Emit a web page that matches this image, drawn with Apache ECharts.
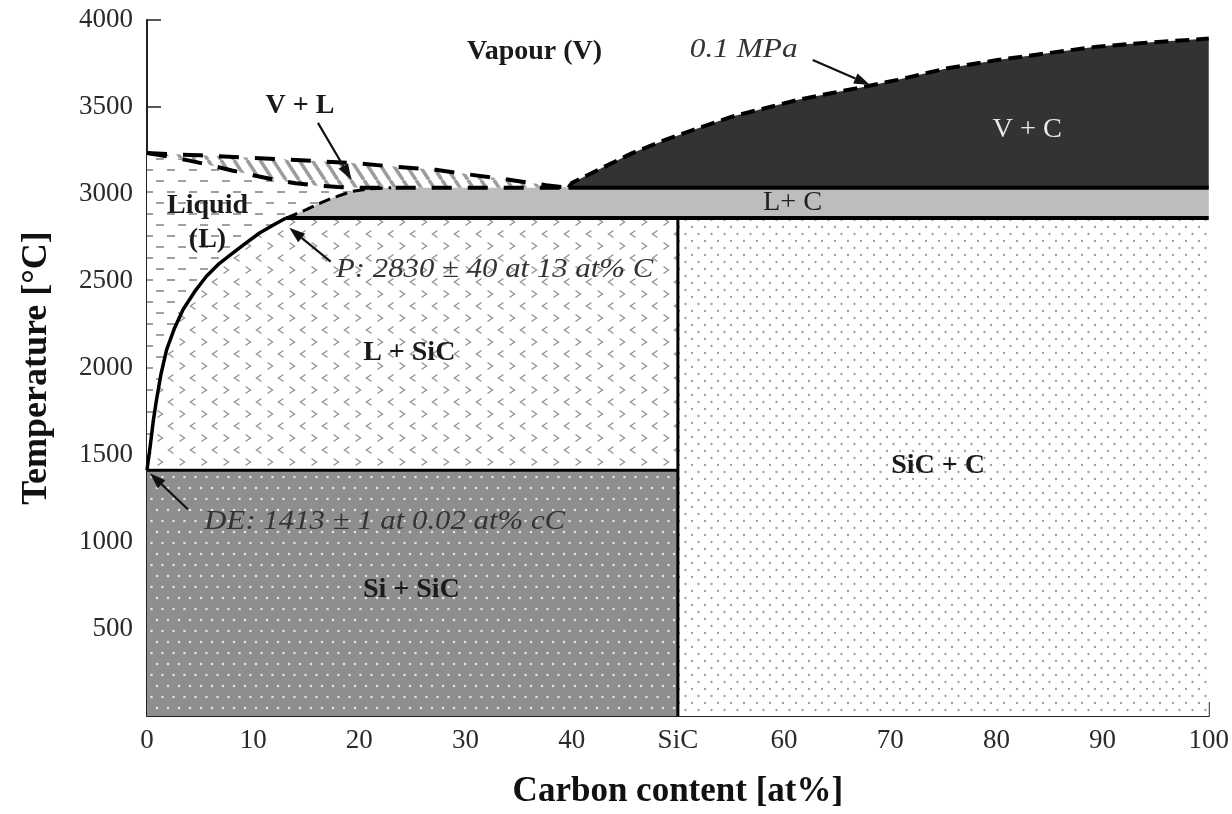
<!DOCTYPE html>
<html>
<head>
<meta charset="utf-8">
<title>Si-C phase diagram</title>
<script src="https://cdn.jsdelivr.net/npm/echarts@6/dist/echarts.min.js"></script>
<style>
  html, body { margin: 0; padding: 0; background: #fff; }
  #chart { width: 1232px; height: 814px; }
</style>
</head>
<body>
<div id="chart"></div>
<script>
// --- data: [carbon at%, temperature °C] ---
const X_NAMES = { 50: 'SiC' };          // x tick 50 is labelled SiC

const T_DE = 1413;   // Si + SiC / L + SiC boundary
const T_P = 2862;    // peritectic line
const T_VC = 3036;   // bottom of V + C
const X_SIC = 50;
const X_MAX = 100;

// liquidus from DE up to P
const liquidus = [[0, 1413], [0.3, 1550], [0.6, 1700], [0.9, 1819], [1.3, 1960], [1.85, 2106],
  [2.6, 2230], [3.4, 2336], [4.5, 2440], [5.6, 2527], [6.8, 2600], [8.1, 2661],
  [9.4, 2722], [10.6, 2776], [11.9, 2822], [13.1, 2862]];
// dashed edge of L + C, left end
const lcEdge = [[13.1, 2862], [14, 2885], [15, 2910], [16.2, 2945], [17.5, 2978],
  [19.3, 3015], [21, 3030], [23, 3036]];
// V + L band, upper and lower dashed boundaries
const vlUpper = [[0, 3235], [5, 3222], [10, 3208], [15, 3192], [20, 3175], [23.5, 3156],
  [27.2, 3139], [30.6, 3110], [34.1, 3082], [37.6, 3050], [39.7, 3036]];
const vlLower = [[0, 3235], [2, 3215], [4, 3192], [6, 3165], [8, 3135], [10, 3108],
  [12, 3082], [14, 3062], [16, 3048], [18, 3040], [20, 3036], [39.7, 3036]];
// 0.1 MPa curve
const vapour = [[39.7, 3036], [40, 3063], [42.5, 3139], [45.7, 3235], [48.8, 3311],
  [51.9, 3378], [55.1, 3445], [58.2, 3493], [61.3, 3541], [64.4, 3579], [67.6, 3617],
  [70.7, 3656], [75.4, 3723], [80.1, 3770], [84.8, 3809], [89.5, 3847], [94.2, 3870],
  [100, 3893]];

// phase labels
const labelText = ['Vapour (V)', '0.1 MPa', 'V + L', 'V + C', 'L+ C', 'Liquid', '(L)',
  'P: 2830 \u00b1 40 at 13 at% C', 'L + SiC', 'SiC + C', 'DE: 1413 \u00b1 1 at 0.02 at% cC', 'Si + SiC'];
const labelAt = [[36.5, 3816], [56.2, 3828], [14.4, 3506], [82.9, 3369], [60.8, 2950],
  [5.7, 2933], [5.7, 2737], [17.8, 2565], [24.7, 2089], [74.5, 1440], [5.4, 1119], [24.9, 723]];

// annotation arrows
const arrowFrom = [[62.7, 3770], [16.1, 3409], [17.3, 2611], [3.85, 1188]];
const arrowTo = [[68.1, 3627], [19.25, 3082], [13.4, 2806], [0.28, 1395]];

// --- fill patterns ---
function makePattern(w, h, bg, draw) {
  const c = document.createElement('canvas');
  c.width = w; c.height = h;
  const ctx = c.getContext('2d');
  ctx.fillStyle = bg;
  ctx.fillRect(0, 0, w, h);
  draw(ctx);
  return { image: c, repeat: 'repeat' };
}
function dots(ctx, pts, r, col) {
  ctx.fillStyle = col;
  pts.forEach(p => { ctx.beginPath(); ctx.arc(p[0], p[1], r, 0, Math.PI * 2); ctx.fill(); });
}
const fillSiSiC = makePattern(11, 22, '#8e8e8e', ctx => dots(ctx, [[3, 4], [8.5, 15]], 1.3, '#e2e2e2'));
const fillSiCC = makePattern(13, 14, '#ffffff', ctx => dots(ctx, [[3, 3], [9.5, 10]], 1.15, '#9c9c9c'));
const fillLSiC = makePattern(22, 24, '#ffffff', ctx => {
  ctx.strokeStyle = '#999999'; ctx.lineWidth = 1.5;
  ctx.beginPath(); ctx.moveTo(3.5, 2.5); ctx.lineTo(8.5, 6); ctx.lineTo(3.5, 9.5); ctx.stroke();
  ctx.beginPath(); ctx.moveTo(19.5, 14.5); ctx.lineTo(14.5, 18); ctx.lineTo(19.5, 21.5); ctx.stroke();
});
const fillLiquid = makePattern(22, 22, '#ffffff', ctx => {
  ctx.strokeStyle = '#a0a0a0'; ctx.lineWidth = 1.8;
  ctx.beginPath(); ctx.moveTo(2, 5); ctx.lineTo(10, 5); ctx.moveTo(13, 16); ctx.lineTo(21, 16); ctx.stroke();
});
const fillVL = makePattern(13, 20, '#ffffff', ctx => {
  ctx.strokeStyle = '#9c9c9c'; ctx.lineWidth = 3.5;
  ctx.beginPath();
  [-13, 0, 13].forEach(x0 => { ctx.moveTo(x0, 0); ctx.lineTo(x0 + 13, 20); });
  ctx.stroke();
});

// --- regions built from the boundaries ---
const regions = [
  { pts: [[0, 0], [X_SIC, 0], [X_SIC, T_DE], [0, T_DE]], fill: fillSiSiC },
  { pts: [[X_SIC, 0], [X_MAX, 0], [X_MAX, T_P], [X_SIC, T_P]], fill: fillSiCC },
  { pts: [[0, T_DE], [X_SIC, T_DE], [X_SIC, T_P]].concat(liquidus.slice().reverse()), fill: fillLSiC },
  { pts: liquidus.concat(lcEdge.slice(1), vlLower.slice(0, 11).reverse()), fill: fillLiquid },
  { pts: vlUpper.concat(vlLower.slice().reverse()), fill: fillVL },
  { pts: [[X_MAX, T_P], [X_MAX, T_VC]].concat(lcEdge.slice().reverse()), fill: '#bdbdbd' },
  { pts: vapour.concat([[X_MAX, T_VC]]), fill: '#333333' }
];

const labelStyle = {
  bold: { fontWeight: 'bold', fontStyle: 'normal', fill: '#1a1a1a', align: 'center', size: 28, scale: 1 },
  plain: { fontWeight: 'normal', fontStyle: 'normal', fill: '#1f1f1f', align: 'center', size: 27, scale: 1.05 },
  white: { fontWeight: 'normal', fontStyle: 'normal', fill: '#e8e8e8', align: 'center', size: 27, scale: 1.05 },
  note: { fontWeight: 'normal', fontStyle: 'italic', fill: '#333333', align: 'center', size: 28, scale: 1.12 },
  noteLeft: { fontWeight: 'normal', fontStyle: 'italic', fill: '#333333', align: 'left', size: 28, scale: 1.1 }
};
const labelKind = ['bold', 'note', 'bold', 'white', 'plain', 'bold', 'bold', 'noteLeft', 'bold', 'bold', 'noteLeft', 'bold'];

const FONT = '"Liberation Serif", "Times New Roman", serif';

function lineSeries(data, width, dash, z) {
  return {
    type: 'line', data: data, showSymbol: false, symbol: 'none', z: z || 3,
    lineStyle: { color: '#000', width: width, type: dash || 'solid', cap: 'butt', join: 'round' },
    animation: false, silent: true
  };
}

const chart = echarts.init(document.getElementById('chart'));
chart.setOption({
  backgroundColor: '#fff',
  animation: false,
  grid: { left: 147, right: 20, top: 20, bottom: 97 },
  xAxis: {
    type: 'value', min: 0, max: 100, interval: 10,
    name: 'Carbon content [at%]', nameLocation: 'middle', nameGap: 58,
    nameTextStyle: { fontFamily: FONT, fontSize: 35, fontWeight: 'bold', color: '#111' },
    axisLine: { lineStyle: { color: '#222', width: 2 } },
    axisTick: { inside: true, length: 14, lineStyle: { color: '#222', width: 1.5 } },
    axisLabel: { fontFamily: FONT, fontSize: 27, color: '#2a2a2a', margin: 11,
      formatter: v => X_NAMES[v] || String(v) },
    splitLine: { show: false }
  },
  yAxis: {
    type: 'value', min: 0, max: 4000, interval: 500,
    name: 'Temperature [\u00b0C]', nameLocation: 'middle', nameGap: 92,
    nameTextStyle: { fontFamily: FONT, fontSize: 36, fontWeight: 'bold', color: '#111' },
    axisLine: { lineStyle: { color: '#222', width: 2 } },
    axisTick: { inside: true, length: 14, lineStyle: { color: '#222', width: 1.5 } },
    axisLabel: { fontFamily: FONT, fontSize: 27, color: '#2a2a2a', margin: 14,
      formatter: v => (v === 0 ? '' : String(v)) },
    splitLine: { show: false }
  },
  series: [
    {
      type: 'custom', z: 1, silent: true, clip: true,
      data: regions.map((r, i) => [r.pts[0][0], r.pts[0][1], i]),
      renderItem: (params, api) => {
        const r = regions[params.dataIndex];
        return { type: 'polygon', shape: { points: r.pts.map(p => api.coord(p)) },
          style: { fill: r.fill, stroke: null } };
      }
    },
    lineSeries(liquidus, 3.5),
    lineSeries([[0, T_DE], [X_SIC, T_DE]], 3),
    lineSeries([[X_SIC, 0], [X_SIC, T_P]], 3),
    lineSeries([[liquidus[liquidus.length - 1][0], T_P], [X_MAX, T_P]], 4),
    lineSeries([[vapour[0][0], T_VC], [X_MAX, T_VC]], 4),
    lineSeries(lcEdge, 3, [12, 6]),
    lineSeries(vlUpper, 4, [20, 16]),
    lineSeries(vlLower, 4, [20, 16]),
    lineSeries(vapour, 4, [14, 7]),
    {
      type: 'custom', z: 5, silent: true,
      data: arrowFrom.map(p => [p[0], p[1]]),
      renderItem: (params, api) => {
        const a = api.coord(arrowFrom[params.dataIndex]);
        const b = api.coord(arrowTo[params.dataIndex]);
        const ang = Math.atan2(b[1] - a[1], b[0] - a[0]);
        const L = 16, W = 5.5;
        const base = [b[0] - L * Math.cos(ang), b[1] - L * Math.sin(ang)];
        const p1 = [base[0] + W * Math.sin(ang), base[1] - W * Math.cos(ang)];
        const p2 = [base[0] - W * Math.sin(ang), base[1] + W * Math.cos(ang)];
        return { type: 'group', children: [
          { type: 'line', shape: { x1: a[0], y1: a[1], x2: base[0], y2: base[1] },
            style: { stroke: '#111', lineWidth: 2.2 } },
          { type: 'polygon', shape: { points: [b, p1, p2] }, style: { fill: '#111' } }
        ] };
      }
    },
    {
      type: 'custom', z: 6, silent: true,
      data: labelAt.map(p => [p[0], p[1]]),
      renderItem: (params, api) => {
        const i = params.dataIndex;
        const s = labelStyle[labelKind[i]];
        const p = api.coord(labelAt[i]);
        return { type: 'text', x: p[0], y: p[1], scaleX: s.scale,
          style: { text: labelText[i], fontFamily: FONT, fontSize: s.size,
            fontWeight: s.fontWeight, fontStyle: s.fontStyle, fill: s.fill,
            align: s.align, verticalAlign: 'middle' } };
      }
    }
  ]
});
</script>
</body>
</html>
